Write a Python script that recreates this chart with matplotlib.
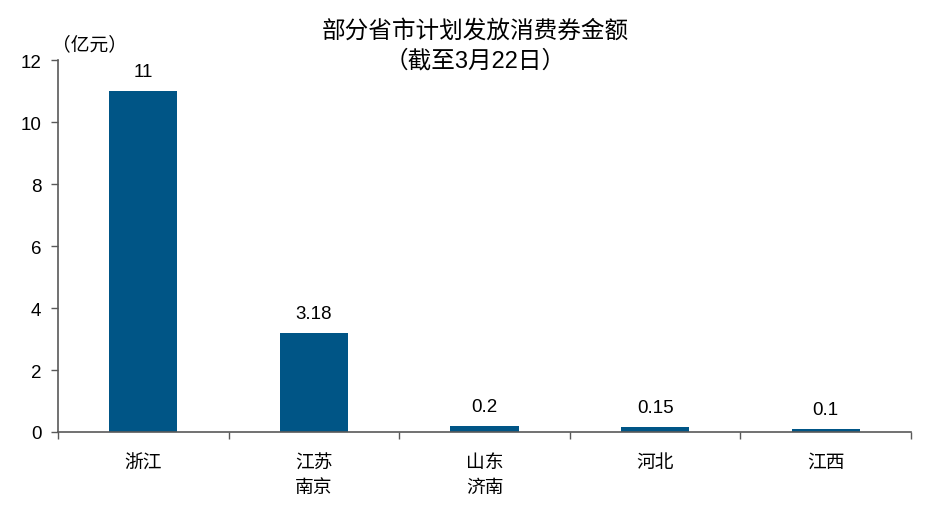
import matplotlib
matplotlib.use("Agg")
import matplotlib.pyplot as plt
import numpy as np

plt.rcParams["font.family"] = ["Liberation Sans", "Noto Sans CJK SC", "DejaVu Sans"]

# data
categories = ["浙江", "江苏\n南京", "山东\n济南", "河北", "江西"]
amounts = [11, 3.18, 0.2, 0.15, 0.1]
value_labels = ["11", "3.18", "0.2", "0.15", "0.1"]
y_ticks = [0, 2, 4, 6, 8, 10, 12]

bar_color = "#005586"
axis_color = "#595959"

fig = plt.figure(figsize=(9.32, 5.10), dpi=100)
ax = fig.add_axes([0.0622, 0.151, 0.9153, 0.729])

x = np.arange(len(categories))
bars = ax.bar(x, amounts, width=0.4, color=bar_color, zorder=2)

#
# Value labels
#
for bar, label in zip(bars, value_labels):
    ax.annotate(
        label,
        xy=(bar.get_x() + bar.get_width() / 2, bar.get_height()),
        xytext=(0, 8),
        textcoords="offset points",
        ha="center",
        va="bottom",
        fontsize=13.5,
    )

#
# Axes
#
ax.set_xlim(-0.5, len(categories) - 0.5)
ax.set_ylim(0, 12)
ax.set_yticks(y_ticks)
ax.set_yticklabels([str(v) for v in y_ticks], fontsize=13.5)

ax.set_xticks(np.arange(len(categories) + 1) - 0.5)
ax.set_xticklabels([])
ax.set_xticks(x, minor=True)
ax.set_xticklabels(categories, minor=True, fontsize=13.5, linespacing=1.6, va="top")
ax.tick_params(axis="x", which="minor", length=0, pad=16)
ax.tick_params(axis="x", which="major", direction="out", length=5, color=axis_color, width=1)
ax.tick_params(axis="y", direction="out", length=5, color=axis_color, width=1, pad=7)

for side in ["top", "right"]:
    ax.spines[side].set_visible(False)
for side in ["left", "bottom"]:
    ax.spines[side].set_color(axis_color)
    ax.spines[side].set_linewidth(1.2)

#
# Titles
#
fig.text(0.51, 0.91, "部分省市计划发放消费券金额\n（截至3月22日）",
         ha="center", va="center", fontsize=17, linespacing=1.4)
fig.text(0.056, 0.912, "（亿元）", ha="left", va="center", fontsize=13.5)

fig.savefig("out.png", dpi=100)
